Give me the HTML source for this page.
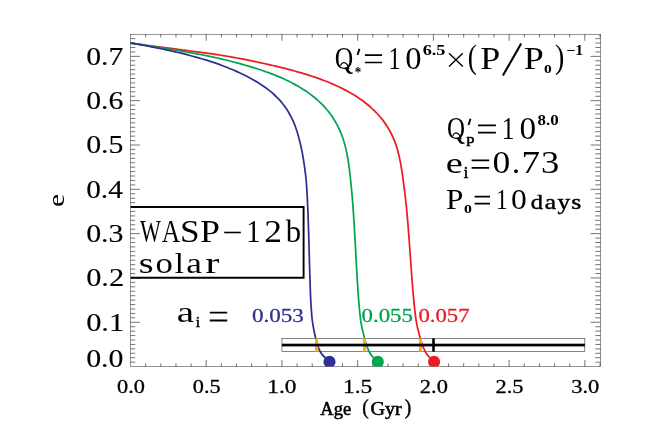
<!DOCTYPE html>
<html><head><meta charset="utf-8"><title>WASP-12b tidal evolution</title>
<style>
html,body{margin:0;padding:0;background:#fff;}
body{width:654px;height:436px;overflow:hidden;position:relative;}
svg text{font-family:"Liberation Serif",serif;font-kerning:none;}
</style></head><body>
<svg width="654" height="436" viewBox="0 0 654 436" style="position:absolute;left:0;top:0;will-change:transform">
<rect width="654" height="436" fill="#fff"/>
<path d="M145.65 366.60 v-3.30 M145.65 34.20 v3.30 M160.79 366.60 v-3.30 M160.79 34.20 v3.30 M175.94 366.60 v-3.30 M175.94 34.20 v3.30 M191.08 366.60 v-3.30 M191.08 34.20 v3.30 M206.23 366.60 v-6.60 M206.23 34.20 v6.60 M221.37 366.60 v-3.30 M221.37 34.20 v3.30 M236.52 366.60 v-3.30 M236.52 34.20 v3.30 M251.66 366.60 v-3.30 M251.66 34.20 v3.30 M266.81 366.60 v-3.30 M266.81 34.20 v3.30 M281.95 366.60 v-6.60 M281.95 34.20 v6.60 M297.10 366.60 v-3.30 M297.10 34.20 v3.30 M312.24 366.60 v-3.30 M312.24 34.20 v3.30 M327.39 366.60 v-3.30 M327.39 34.20 v3.30 M342.53 366.60 v-3.30 M342.53 34.20 v3.30 M357.68 366.60 v-6.60 M357.68 34.20 v6.60 M372.82 366.60 v-3.30 M372.82 34.20 v3.30 M387.97 366.60 v-3.30 M387.97 34.20 v3.30 M403.11 366.60 v-3.30 M403.11 34.20 v3.30 M418.26 366.60 v-3.30 M418.26 34.20 v3.30 M433.40 366.60 v-6.60 M433.40 34.20 v6.60 M448.55 366.60 v-3.30 M448.55 34.20 v3.30 M463.69 366.60 v-3.30 M463.69 34.20 v3.30 M478.84 366.60 v-3.30 M478.84 34.20 v3.30 M493.98 366.60 v-3.30 M493.98 34.20 v3.30 M509.13 366.60 v-6.60 M509.13 34.20 v6.60 M524.27 366.60 v-3.30 M524.27 34.20 v3.30 M539.42 366.60 v-3.30 M539.42 34.20 v3.30 M554.56 366.60 v-3.30 M554.56 34.20 v3.30 M569.71 366.60 v-3.30 M569.71 34.20 v3.30 M584.85 366.60 v-6.60 M584.85 34.20 v6.60 M600.00 366.60 v-3.30 M600.00 34.20 v3.30 M130.50 362.17 h4.70 M600.50 362.17 h-5.20 M130.50 357.74 h4.70 M600.50 357.74 h-5.20 M130.50 353.30 h4.70 M600.50 353.30 h-5.20 M130.50 348.87 h4.70 M600.50 348.87 h-5.20 M130.50 344.44 h4.70 M600.50 344.44 h-5.20 M130.50 340.01 h4.70 M600.50 340.01 h-5.20 M130.50 335.58 h4.70 M600.50 335.58 h-5.20 M130.50 331.14 h4.70 M600.50 331.14 h-5.20 M130.50 326.71 h4.70 M600.50 326.71 h-5.20 M130.50 322.28 h9.40 M600.50 322.28 h-9.90 M130.50 317.85 h4.70 M600.50 317.85 h-5.20 M130.50 313.42 h4.70 M600.50 313.42 h-5.20 M130.50 308.98 h4.70 M600.50 308.98 h-5.20 M130.50 304.55 h4.70 M600.50 304.55 h-5.20 M130.50 300.12 h4.70 M600.50 300.12 h-5.20 M130.50 295.69 h4.70 M600.50 295.69 h-5.20 M130.50 291.26 h4.70 M600.50 291.26 h-5.20 M130.50 286.82 h4.70 M600.50 286.82 h-5.20 M130.50 282.39 h4.70 M600.50 282.39 h-5.20 M130.50 277.96 h9.40 M600.50 277.96 h-9.90 M130.50 273.53 h4.70 M600.50 273.53 h-5.20 M130.50 269.10 h4.70 M600.50 269.10 h-5.20 M130.50 264.66 h4.70 M600.50 264.66 h-5.20 M130.50 260.23 h4.70 M600.50 260.23 h-5.20 M130.50 255.80 h4.70 M600.50 255.80 h-5.20 M130.50 251.37 h4.70 M600.50 251.37 h-5.20 M130.50 246.94 h4.70 M600.50 246.94 h-5.20 M130.50 242.50 h4.70 M600.50 242.50 h-5.20 M130.50 238.07 h4.70 M600.50 238.07 h-5.20 M130.50 233.64 h9.40 M600.50 233.64 h-9.90 M130.50 229.21 h4.70 M600.50 229.21 h-5.20 M130.50 224.78 h4.70 M600.50 224.78 h-5.20 M130.50 220.34 h4.70 M600.50 220.34 h-5.20 M130.50 215.91 h4.70 M600.50 215.91 h-5.20 M130.50 211.48 h4.70 M600.50 211.48 h-5.20 M130.50 207.05 h4.70 M600.50 207.05 h-5.20 M130.50 202.62 h4.70 M600.50 202.62 h-5.20 M130.50 198.18 h4.70 M600.50 198.18 h-5.20 M130.50 193.75 h4.70 M600.50 193.75 h-5.20 M130.50 189.32 h9.40 M600.50 189.32 h-9.90 M130.50 184.89 h4.70 M600.50 184.89 h-5.20 M130.50 180.46 h4.70 M600.50 180.46 h-5.20 M130.50 176.02 h4.70 M600.50 176.02 h-5.20 M130.50 171.59 h4.70 M600.50 171.59 h-5.20 M130.50 167.16 h4.70 M600.50 167.16 h-5.20 M130.50 162.73 h4.70 M600.50 162.73 h-5.20 M130.50 158.30 h4.70 M600.50 158.30 h-5.20 M130.50 153.86 h4.70 M600.50 153.86 h-5.20 M130.50 149.43 h4.70 M600.50 149.43 h-5.20 M130.50 145.00 h9.40 M600.50 145.00 h-9.90 M130.50 140.57 h4.70 M600.50 140.57 h-5.20 M130.50 136.14 h4.70 M600.50 136.14 h-5.20 M130.50 131.70 h4.70 M600.50 131.70 h-5.20 M130.50 127.27 h4.70 M600.50 127.27 h-5.20 M130.50 122.84 h4.70 M600.50 122.84 h-5.20 M130.50 118.41 h4.70 M600.50 118.41 h-5.20 M130.50 113.98 h4.70 M600.50 113.98 h-5.20 M130.50 109.54 h4.70 M600.50 109.54 h-5.20 M130.50 105.11 h4.70 M600.50 105.11 h-5.20 M130.50 100.68 h9.40 M600.50 100.68 h-9.90 M130.50 96.25 h4.70 M600.50 96.25 h-5.20 M130.50 91.82 h4.70 M600.50 91.82 h-5.20 M130.50 87.38 h4.70 M600.50 87.38 h-5.20 M130.50 82.95 h4.70 M600.50 82.95 h-5.20 M130.50 78.52 h4.70 M600.50 78.52 h-5.20 M130.50 74.09 h4.70 M600.50 74.09 h-5.20 M130.50 69.66 h4.70 M600.50 69.66 h-5.20 M130.50 65.22 h4.70 M600.50 65.22 h-5.20 M130.50 60.79 h4.70 M600.50 60.79 h-5.20 M130.50 56.36 h9.40 M600.50 56.36 h-9.90 M130.50 51.93 h4.70 M600.50 51.93 h-5.20 M130.50 47.50 h4.70 M600.50 47.50 h-5.20 M130.50 43.06 h4.70 M600.50 43.06 h-5.20 M130.50 38.63 h4.70 M600.50 38.63 h-5.20" stroke="#000" stroke-width="0.55" fill="none"/>
<rect x="130.50" y="34.20" width="470.00" height="332.40" fill="none" stroke="#000" stroke-width="0.42"/>
<clipPath id="pc"><rect x="127.50" y="34.20" width="472.50" height="332.40"/></clipPath>
<rect x="281.95" y="338.4" width="302.90" height="13.2" fill="#fff" stroke="#222" stroke-width="0.55"/>
<g clip-path="url(#pc)">
<path d="M130.50 43.06 C131.17 43.15 133.19 43.42 134.53 43.60 C135.87 43.78 137.21 43.96 138.55 44.14 C139.89 44.32 141.23 44.50 142.57 44.69 C143.91 44.88 145.26 45.06 146.60 45.25 C147.94 45.44 149.28 45.62 150.62 45.80 C151.96 45.97 153.31 46.13 154.65 46.30 C155.99 46.47 157.34 46.64 158.68 46.81 C160.02 46.98 161.36 47.16 162.70 47.33 C164.04 47.50 165.39 47.68 166.73 47.86 C168.07 48.04 169.42 48.21 170.76 48.39 C172.10 48.57 173.44 48.75 174.78 48.94 C176.12 49.12 177.46 49.32 178.80 49.50 C180.14 49.68 181.49 49.84 182.83 50.01 C184.17 50.18 185.52 50.34 186.86 50.50 C188.20 50.66 189.55 50.83 190.89 51.00 C192.23 51.17 193.58 51.35 194.92 51.52 C196.26 51.69 197.61 51.86 198.95 52.04 C200.29 52.22 201.63 52.40 202.97 52.58 C204.31 52.76 205.65 52.95 206.99 53.14 C208.33 53.33 209.67 53.51 211.01 53.71 C212.35 53.91 213.69 54.11 215.03 54.32 C216.37 54.53 217.70 54.74 219.04 54.95 C220.38 55.16 221.71 55.37 223.05 55.59 C224.39 55.81 225.72 56.03 227.06 56.26 C228.40 56.48 229.73 56.71 231.06 56.94 C232.39 57.17 233.73 57.41 235.06 57.64 C236.39 57.88 237.73 58.11 239.06 58.35 C240.39 58.59 241.72 58.85 243.05 59.11 C244.38 59.37 245.70 59.62 247.03 59.89 C248.36 60.16 249.68 60.43 251.01 60.70 C252.34 60.97 253.67 61.24 254.99 61.52 C256.31 61.80 257.64 62.08 258.96 62.37 C260.28 62.66 261.61 62.95 262.93 63.24 C264.25 63.53 265.57 63.82 266.89 64.12 C268.21 64.42 269.53 64.72 270.85 65.03 C272.17 65.34 273.48 65.65 274.80 65.96 C276.12 66.27 277.44 66.59 278.75 66.91 C280.06 67.23 281.38 67.56 282.69 67.89 C284.00 68.22 285.32 68.55 286.63 68.89 C287.94 69.23 289.24 69.57 290.55 69.92 C291.86 70.27 293.17 70.62 294.47 70.98 C295.78 71.34 297.08 71.70 298.38 72.07 C299.68 72.44 300.98 72.82 302.28 73.20 C303.58 73.58 304.88 73.97 306.17 74.37 C307.47 74.77 308.76 75.18 310.05 75.59 C311.34 76.00 312.63 76.42 313.91 76.85 C315.19 77.28 316.47 77.73 317.74 78.18 C319.01 78.63 320.29 79.09 321.56 79.57 C322.83 80.05 324.09 80.54 325.35 81.04 C326.61 81.54 327.86 82.04 329.11 82.56 C330.36 83.08 331.60 83.62 332.84 84.16 C334.08 84.70 335.32 85.25 336.55 85.82 C337.78 86.38 339.00 86.96 340.22 87.55 C341.44 88.14 342.65 88.75 343.85 89.37 C345.05 89.99 346.25 90.61 347.44 91.26 C348.63 91.91 349.81 92.57 350.98 93.25 C352.15 93.93 353.32 94.62 354.47 95.33 C355.62 96.04 356.76 96.77 357.89 97.52 C359.02 98.27 360.14 99.03 361.25 99.81 C362.36 100.59 363.44 101.39 364.52 102.21 C365.60 103.03 366.66 103.87 367.71 104.73 C368.76 105.59 369.79 106.46 370.80 107.36 C371.81 108.26 372.80 109.18 373.77 110.12 C374.74 111.06 375.70 112.03 376.63 113.01 C377.56 113.99 378.47 114.99 379.36 116.01 C380.25 117.03 381.11 118.08 381.95 119.14 C382.79 120.20 383.60 121.28 384.39 122.38 C385.18 123.48 385.95 124.60 386.69 125.74 C387.43 126.88 388.14 128.02 388.82 129.19 C389.50 130.36 390.16 131.54 390.79 132.74 C391.42 133.94 392.01 135.15 392.58 136.38 C393.15 137.61 393.68 138.86 394.19 140.11 C394.70 141.37 395.17 142.63 395.62 143.91 C396.07 145.19 396.49 146.48 396.89 147.77 C397.29 149.06 397.66 150.36 398.01 151.67 C398.36 152.98 398.69 154.29 399.00 155.61 C399.31 156.93 399.61 158.26 399.88 159.58 C400.15 160.91 400.40 162.23 400.65 163.56 C400.89 164.89 401.13 166.22 401.35 167.56 C401.57 168.90 401.78 170.23 401.98 171.57 C402.18 172.91 402.37 174.25 402.56 175.59 C402.75 176.93 402.93 178.28 403.11 179.62 C403.29 180.96 403.45 182.30 403.63 183.64 C403.81 184.98 403.99 186.33 404.16 187.67 C404.34 189.01 404.51 190.36 404.68 191.70 C404.85 193.04 405.02 194.39 405.18 195.73 C405.34 197.07 405.49 198.41 405.64 199.76 C405.79 201.10 405.94 202.45 406.08 203.80 C406.22 205.15 406.36 206.49 406.49 207.84 C406.62 209.19 406.75 210.53 406.88 211.88 C407.00 213.23 407.12 214.58 407.24 215.93 C407.36 217.28 407.49 218.62 407.60 219.97 C407.72 221.32 407.82 222.67 407.93 224.02 C408.04 225.37 408.15 226.72 408.26 228.07 C408.37 229.42 408.47 230.76 408.57 232.11 C408.67 233.46 408.78 234.81 408.88 236.16 C408.98 237.51 409.08 238.86 409.18 240.21 C409.28 241.56 409.37 242.91 409.47 244.26 C409.57 245.61 409.66 246.96 409.76 248.31 C409.86 249.66 409.95 251.01 410.05 252.36 C410.15 253.71 410.25 255.06 410.34 256.41 C410.43 257.76 410.52 259.12 410.62 260.47 C410.72 261.82 410.81 263.17 410.91 264.52 C411.01 265.87 411.10 267.22 411.20 268.57 C411.30 269.92 411.40 271.27 411.50 272.62 C411.60 273.97 411.70 275.32 411.80 276.67 C411.90 278.02 412.00 279.37 412.11 280.72 C412.22 282.07 412.32 283.41 412.43 284.76 C412.54 286.11 412.65 287.46 412.76 288.81 C412.87 290.16 412.98 291.51 413.10 292.86 C413.22 294.21 413.34 295.55 413.46 296.90 C413.58 298.25 413.71 299.59 413.84 300.94 C413.97 302.29 414.10 303.64 414.24 304.99 C414.38 306.34 414.52 307.67 414.67 309.02 C414.82 310.37 414.98 311.72 415.14 313.06 C415.30 314.40 415.46 315.75 415.64 317.09 C415.82 318.43 416.01 319.78 416.23 321.11 C416.45 322.44 416.71 323.76 416.98 325.09 C417.25 326.41 417.56 327.74 417.87 329.06 C418.18 330.38 418.51 331.69 418.85 333.00 C419.19 334.31 419.55 335.62 419.92 336.92 C420.29 338.22 420.66 339.52 421.05 340.82 C421.44 342.12 421.83 343.41 422.28 344.69 C422.73 345.97 423.19 347.23 423.74 348.47 C424.29 349.71 424.87 350.94 425.55 352.11 C426.23 353.28 426.97 354.42 427.82 355.47 C428.67 356.52 429.61 357.52 430.63 358.39 C431.65 359.26 433.40 360.32 433.96 360.71" stroke="#ed1c24" stroke-width="1.75" fill="none" stroke-linejoin="round"/>
<path d="M130.50 43.06 C131.17 43.16 133.17 43.45 134.50 43.65 C135.83 43.85 137.16 44.05 138.49 44.25 C139.82 44.45 141.15 44.66 142.48 44.87 C143.81 45.08 145.14 45.28 146.47 45.49 C147.80 45.70 149.13 45.92 150.46 46.13 C151.79 46.34 153.13 46.53 154.46 46.73 C155.79 46.93 157.12 47.14 158.45 47.35 C159.78 47.56 161.11 47.77 162.44 47.98 C163.77 48.19 165.10 48.40 166.43 48.62 C167.76 48.84 169.08 49.06 170.41 49.29 C171.74 49.52 173.06 49.74 174.39 49.97 C175.72 50.20 177.04 50.43 178.37 50.66 C179.70 50.89 181.03 51.12 182.36 51.34 C183.69 51.56 185.01 51.77 186.34 52.00 C187.67 52.23 188.99 52.46 190.32 52.69 C191.65 52.92 192.98 53.15 194.30 53.39 C195.62 53.63 196.95 53.87 198.27 54.12 C199.59 54.37 200.92 54.62 202.24 54.87 C203.56 55.12 204.89 55.38 206.21 55.64 C207.53 55.90 208.85 56.17 210.17 56.44 C211.49 56.71 212.81 56.99 214.12 57.28 C215.44 57.57 216.75 57.86 218.06 58.16 C219.37 58.46 220.68 58.77 221.99 59.08 C223.30 59.39 224.61 59.70 225.92 60.02 C227.23 60.34 228.53 60.66 229.84 60.99 C231.15 61.32 232.45 61.65 233.75 61.99 C235.05 62.33 236.36 62.68 237.66 63.03 C238.96 63.38 240.25 63.73 241.55 64.10 C242.85 64.46 244.15 64.84 245.44 65.22 C246.73 65.60 248.02 65.97 249.31 66.36 C250.60 66.75 251.88 67.14 253.17 67.54 C254.45 67.94 255.74 68.34 257.02 68.76 C258.30 69.18 259.58 69.60 260.86 70.03 C262.14 70.46 263.41 70.89 264.68 71.33 C265.95 71.77 267.23 72.23 268.49 72.69 C269.75 73.15 271.01 73.62 272.27 74.10 C273.53 74.58 274.78 75.08 276.03 75.58 C277.28 76.08 278.53 76.59 279.77 77.12 C281.01 77.65 282.23 78.18 283.46 78.74 C284.69 79.30 285.91 79.88 287.12 80.46 C288.33 81.04 289.54 81.64 290.74 82.25 C291.94 82.86 293.14 83.49 294.32 84.13 C295.50 84.77 296.67 85.43 297.84 86.10 C299.00 86.77 300.16 87.47 301.31 88.17 C302.46 88.88 303.60 89.59 304.72 90.33 C305.85 91.07 306.96 91.83 308.06 92.61 C309.16 93.39 310.26 94.18 311.33 94.99 C312.40 95.80 313.46 96.64 314.50 97.49 C315.54 98.34 316.56 99.22 317.57 100.11 C318.58 101.00 319.57 101.91 320.54 102.85 C321.51 103.78 322.45 104.74 323.38 105.72 C324.31 106.70 325.21 107.69 326.09 108.71 C326.97 109.73 327.83 110.77 328.66 111.83 C329.49 112.89 330.30 113.96 331.08 115.06 C331.86 116.16 332.61 117.28 333.34 118.41 C334.07 119.54 334.77 120.69 335.45 121.86 C336.12 123.03 336.77 124.21 337.39 125.40 C338.01 126.59 338.60 127.81 339.17 129.03 C339.74 130.25 340.28 131.48 340.79 132.72 C341.30 133.96 341.78 135.22 342.24 136.49 C342.70 137.76 343.13 139.04 343.54 140.32 C343.95 141.60 344.32 142.89 344.68 144.19 C345.04 145.49 345.37 146.79 345.69 148.10 C346.01 149.41 346.30 150.72 346.58 152.04 C346.86 153.36 347.12 154.69 347.37 156.01 C347.62 157.33 347.84 158.66 348.06 159.99 C348.28 161.32 348.48 162.65 348.67 163.98 C348.86 165.31 349.05 166.64 349.22 167.98 C349.40 169.31 349.56 170.65 349.72 171.99 C349.88 173.33 350.02 174.66 350.17 176.00 C350.32 177.34 350.46 178.68 350.60 180.02 C350.74 181.36 350.87 182.70 351.00 184.04 C351.13 185.38 351.26 186.72 351.39 188.06 C351.52 189.40 351.65 190.74 351.78 192.08 C351.91 193.42 352.03 194.76 352.15 196.10 C352.27 197.44 352.38 198.79 352.49 200.13 C352.60 201.47 352.70 202.82 352.80 204.16 C352.90 205.50 353.00 206.84 353.10 208.18 C353.20 209.52 353.30 210.87 353.39 212.21 C353.48 213.55 353.57 214.90 353.66 216.24 C353.75 217.59 353.83 218.94 353.91 220.28 C353.99 221.62 354.08 222.97 354.16 224.31 C354.24 225.65 354.32 227.00 354.40 228.34 C354.48 229.68 354.55 231.03 354.63 232.37 C354.71 233.72 354.79 235.06 354.86 236.41 C354.94 237.75 355.01 239.10 355.08 240.44 C355.15 241.78 355.23 243.12 355.30 244.47 C355.37 245.81 355.45 247.16 355.52 248.51 C355.59 249.85 355.67 251.20 355.74 252.54 C355.81 253.88 355.88 255.22 355.95 256.57 C356.02 257.92 356.10 259.26 356.17 260.61 C356.24 261.96 356.31 263.30 356.39 264.64 C356.46 265.98 356.54 267.33 356.62 268.67 C356.70 270.01 356.77 271.37 356.85 272.71 C356.93 274.05 357.01 275.40 357.09 276.74 C357.17 278.08 357.25 279.43 357.33 280.77 C357.41 282.11 357.49 283.46 357.58 284.80 C357.67 286.14 357.76 287.49 357.85 288.83 C357.94 290.17 358.03 291.52 358.13 292.86 C358.23 294.20 358.32 295.55 358.42 296.89 C358.52 298.23 358.62 299.58 358.73 300.92 C358.84 302.26 358.95 303.60 359.07 304.94 C359.19 306.28 359.31 307.63 359.43 308.97 C359.56 310.31 359.69 311.65 359.82 312.99 C359.95 314.33 360.08 315.67 360.24 317.01 C360.40 318.35 360.56 319.68 360.76 321.01 C360.96 322.34 361.19 323.67 361.44 324.99 C361.69 326.31 361.98 327.63 362.27 328.95 C362.56 330.26 362.87 331.57 363.19 332.88 C363.51 334.19 363.84 335.50 364.18 336.80 C364.52 338.10 364.87 339.40 365.23 340.70 C365.59 342.00 365.94 343.30 366.35 344.58 C366.76 345.86 367.19 347.14 367.70 348.38 C368.21 349.62 368.76 350.86 369.41 352.04 C370.06 353.22 370.77 354.38 371.59 355.44 C372.41 356.50 373.33 357.51 374.34 358.39 C375.35 359.27 377.09 360.32 377.64 360.71" stroke="#00a651" stroke-width="1.75" fill="none" stroke-linejoin="round"/>
<path d="M130.50 43.06 C131.16 43.17 133.16 43.51 134.49 43.74 C135.82 43.97 137.15 44.20 138.48 44.43 C139.81 44.66 141.14 44.89 142.47 45.13 C143.80 45.37 145.13 45.61 146.46 45.85 C147.79 46.09 149.12 46.34 150.44 46.59 C151.76 46.85 153.09 47.11 154.41 47.38 C155.73 47.65 157.06 47.92 158.38 48.19 C159.70 48.46 161.02 48.73 162.34 49.01 C163.66 49.29 164.98 49.58 166.30 49.86 C167.62 50.14 168.94 50.43 170.26 50.72 C171.58 51.01 172.89 51.31 174.21 51.61 C175.53 51.91 176.85 52.20 178.16 52.51 C179.47 52.82 180.78 53.14 182.09 53.47 C183.40 53.80 184.70 54.13 186.01 54.47 C187.32 54.81 188.62 55.15 189.93 55.50 C191.24 55.85 192.54 56.19 193.84 56.55 C195.14 56.91 196.44 57.27 197.74 57.64 C199.04 58.01 200.33 58.38 201.63 58.76 C202.93 59.14 204.23 59.52 205.52 59.91 C206.81 60.30 208.10 60.68 209.39 61.09 C210.68 61.50 211.96 61.92 213.24 62.35 C214.52 62.78 215.79 63.23 217.06 63.69 C218.33 64.14 219.60 64.61 220.86 65.08 C222.12 65.55 223.39 66.02 224.65 66.51 C225.91 67.00 227.16 67.50 228.41 68.00 C229.66 68.50 230.91 69.02 232.16 69.54 C233.41 70.06 234.64 70.59 235.88 71.14 C237.12 71.69 238.34 72.25 239.57 72.81 C240.79 73.38 242.01 73.94 243.23 74.53 C244.44 75.12 245.66 75.72 246.86 76.33 C248.06 76.94 249.26 77.57 250.45 78.21 C251.64 78.85 252.82 79.51 253.99 80.18 C255.16 80.85 256.32 81.53 257.47 82.24 C258.62 82.95 259.75 83.68 260.88 84.42 C262.01 85.16 263.13 85.91 264.24 86.69 C265.35 87.47 266.44 88.25 267.51 89.07 C268.58 89.88 269.65 90.72 270.69 91.58 C271.73 92.44 272.75 93.32 273.75 94.23 C274.75 95.14 275.73 96.07 276.68 97.02 C277.63 97.97 278.58 98.95 279.48 99.95 C280.38 100.95 281.26 101.98 282.11 103.03 C282.96 104.08 283.79 105.14 284.59 106.23 C285.38 107.32 286.14 108.44 286.88 109.57 C287.62 110.70 288.32 111.85 289.00 113.02 C289.68 114.19 290.32 115.37 290.94 116.57 C291.56 117.77 292.15 118.98 292.71 120.21 C293.27 121.44 293.80 122.68 294.31 123.93 C294.82 125.18 295.30 126.45 295.75 127.72 C296.20 128.99 296.63 130.27 297.04 131.55 C297.45 132.84 297.84 134.13 298.21 135.43 C298.58 136.73 298.91 138.04 299.25 139.35 C299.59 140.66 299.93 141.96 300.24 143.27 C300.56 144.58 300.85 145.90 301.14 147.22 C301.43 148.54 301.70 149.86 301.96 151.18 C302.22 152.50 302.47 153.83 302.71 155.16 C302.95 156.49 303.17 157.82 303.39 159.15 C303.61 160.48 303.82 161.82 304.02 163.16 C304.22 164.50 304.41 165.82 304.59 167.16 C304.77 168.50 304.95 169.84 305.12 171.18 C305.29 172.52 305.46 173.86 305.62 175.20 C305.78 176.54 305.94 177.88 306.07 179.22 C306.20 180.56 306.30 181.91 306.40 183.26 C306.50 184.61 306.58 185.95 306.67 187.30 C306.76 188.65 306.84 189.99 306.92 191.34 C307.00 192.69 307.08 194.03 307.15 195.38 C307.22 196.73 307.29 198.08 307.36 199.43 C307.43 200.78 307.49 202.12 307.55 203.47 C307.61 204.82 307.67 206.17 307.73 207.52 C307.79 208.87 307.84 210.21 307.90 211.56 C307.95 212.91 308.01 214.26 308.06 215.61 C308.11 216.96 308.16 218.30 308.21 219.65 C308.26 221.00 308.31 222.35 308.35 223.70 C308.40 225.05 308.44 226.40 308.48 227.75 C308.52 229.10 308.57 230.45 308.61 231.80 C308.65 233.15 308.69 234.49 308.73 235.84 C308.77 237.19 308.81 238.54 308.85 239.89 C308.89 241.24 308.92 242.59 308.96 243.94 C309.00 245.29 309.03 246.64 309.07 247.99 C309.11 249.34 309.15 250.68 309.19 252.03 C309.23 253.38 309.26 254.73 309.30 256.08 C309.34 257.43 309.37 258.78 309.41 260.13 C309.45 261.48 309.48 262.83 309.52 264.18 C309.56 265.53 309.59 266.88 309.63 268.23 C309.67 269.58 309.71 270.92 309.75 272.27 C309.79 273.62 309.83 274.97 309.87 276.32 C309.91 277.67 309.95 279.02 309.99 280.37 C310.03 281.72 310.07 283.07 310.12 284.42 C310.17 285.77 310.21 287.11 310.26 288.46 C310.31 289.81 310.36 291.16 310.41 292.51 C310.46 293.86 310.51 295.21 310.57 296.56 C310.63 297.91 310.68 299.25 310.75 300.60 C310.82 301.95 310.92 303.29 311.00 304.64 C311.08 305.99 311.17 307.33 311.26 308.68 C311.35 310.03 311.46 311.37 311.56 312.72 C311.66 314.07 311.75 315.42 311.88 316.76 C312.01 318.10 312.17 319.44 312.35 320.78 C312.53 322.12 312.74 323.45 312.96 324.78 C313.18 326.11 313.41 327.44 313.66 328.77 C313.91 330.10 314.17 331.42 314.44 332.74 C314.71 334.06 315.00 335.38 315.31 336.70 C315.62 338.01 315.94 339.33 316.29 340.63 C316.64 341.93 317.02 343.23 317.43 344.51 C317.84 345.79 318.24 347.09 318.75 348.34 C319.26 349.59 319.81 350.84 320.48 352.00 C321.16 353.16 321.92 354.30 322.80 355.31 C323.68 356.32 324.70 357.25 325.78 358.04 C326.86 358.83 328.69 359.73 329.27 360.07" stroke="#2e3192" stroke-width="1.75" fill="none" stroke-linejoin="round"/>
<circle cx="329.5" cy="361.9" r="6.05" fill="#2e3192"/>
<circle cx="377.8" cy="361.9" r="6.05" fill="#00a651"/>
<circle cx="434.1" cy="361.9" r="6.05" fill="#ed1c24"/>
</g>
<rect x="315.05" y="338.5" width="3.2" height="13.0" fill="#fbb01a"/>
<rect x="362.90" y="338.5" width="3.2" height="13.0" fill="#fbb01a"/>
<rect x="418.80" y="338.5" width="3.2" height="13.0" fill="#fbb01a"/>
<rect x="281.95" y="343.7" width="302.90" height="2.7" fill="#000"/>
<rect x="432.20" y="338.4" width="2.6" height="13.2" fill="#000"/>
<path d="M130.8 207 H303.6 V277.7 H130.8" fill="none" stroke="#000" stroke-width="1.9"/>
<text transform="translate(86.16,366.56) scale(0.2990,0.2429)" font-size="100" fill="#000" stroke="#000" stroke-width="0.55">0.0</text>
<text transform="translate(86.14,330.64) scale(0.3047,0.2429)" font-size="100" fill="#000" stroke="#000" stroke-width="0.55">0.1</text>
<text transform="translate(86.14,286.32) scale(0.3034,0.2429)" font-size="100" fill="#000" stroke="#000" stroke-width="0.55">0.2</text>
<text transform="translate(86.16,242.00) scale(0.2993,0.2429)" font-size="100" fill="#000" stroke="#000" stroke-width="0.55">0.3</text>
<text transform="translate(86.18,197.68) scale(0.2934,0.2429)" font-size="100" fill="#000" stroke="#000" stroke-width="0.56">0.4</text>
<text transform="translate(86.16,153.36) scale(0.2993,0.2429)" font-size="100" fill="#000" stroke="#000" stroke-width="0.55">0.5</text>
<text transform="translate(86.17,109.04) scale(0.2969,0.2429)" font-size="100" fill="#000" stroke="#000" stroke-width="0.56">0.6</text>
<text transform="translate(86.17,64.72) scale(0.2967,0.2429)" font-size="100" fill="#000" stroke="#000" stroke-width="0.56">0.7</text>
<text transform="translate(117.05,392.64) scale(0.2232,0.1826)" font-size="100" fill="#000" stroke="#000" stroke-width="1.48">0.0</text>
<text transform="translate(192.78,392.64) scale(0.2234,0.1826)" font-size="100" fill="#000" stroke="#000" stroke-width="1.48">0.5</text>
<text transform="translate(267.30,392.64) scale(0.2331,0.1826)" font-size="100" fill="#000" stroke="#000" stroke-width="1.44">1.0</text>
<text transform="translate(343.03,392.64) scale(0.2333,0.1839)" font-size="100" fill="#000" stroke="#000" stroke-width="1.44">1.5</text>
<text transform="translate(419.82,392.64) scale(0.2243,0.1826)" font-size="100" fill="#000" stroke="#000" stroke-width="1.47">2.0</text>
<text transform="translate(495.54,392.64) scale(0.2245,0.1834)" font-size="100" fill="#000" stroke="#000" stroke-width="1.47">2.5</text>
<text transform="translate(571.18,392.64) scale(0.2251,0.1826)" font-size="100" fill="#000" stroke="#000" stroke-width="1.47">3.0</text>
<text transform="translate(320.32,414.50) scale(0.1850,0.1790)" font-size="100" fill="#000" stroke="#000" stroke-width="3.02">Age</text>
<text transform="translate(362.34,414.29) scale(0.1947,0.2117)" font-size="100" fill="#000" stroke="#000" stroke-width="2.21">(</text>
<text transform="translate(370.48,414.50) scale(0.2006,0.1790)" font-size="100" fill="#000" stroke="#000" stroke-width="2.90">Gyr</text>
<text transform="translate(404.87,414.29) scale(0.1947,0.2117)" font-size="100" fill="#000" stroke="#000" stroke-width="2.21">)</text>
<g transform="translate(64.7,205.8) rotate(-90)">
<text transform="translate(-1.14,-0.22) scale(0.2918,0.2225)" font-size="100">e</text>
</g>
<text transform="translate(139.98,241.70) scale(0.2211,0.3082)" font-size="100" fill="#000">W</text>
<text transform="translate(161.75,241.70) scale(0.2553,0.3082)" font-size="100" fill="#000">A</text>
<text transform="translate(179.94,241.70) scale(0.3534,0.3082)" font-size="100" fill="#000">S</text>
<text transform="translate(200.07,241.70) scale(0.3571,0.3082)" font-size="100" fill="#000">P</text>
<text transform="translate(246.20,241.70) scale(0.2840,0.3082)" font-size="100" fill="#000">1</text>
<text transform="translate(264.24,241.70) scale(0.3542,0.3082)" font-size="100" fill="#000">2</text>
<text transform="translate(285.80,241.70) scale(0.3074,0.3082)" font-size="100" fill="#000">b</text>
<path d="M224.2 232.5 H240.8" stroke="#000" stroke-width="1.6"/>
<text transform="translate(138.84,272.50) scale(0.3814,0.2980)" font-size="100" fill="#000">s</text>
<text transform="translate(155.58,272.50) scale(0.3468,0.2980)" font-size="100" fill="#000">o</text>
<text transform="translate(174.84,272.50) scale(0.3280,0.2980)" font-size="100" fill="#000">l</text>
<text transform="translate(186.36,272.50) scale(0.3519,0.2980)" font-size="100" fill="#000">a</text>
<text transform="translate(205.25,272.50) scale(0.4241,0.2980)" font-size="100" fill="#000">r</text>
<text transform="translate(176.83,321.60) scale(0.3899,0.3027)" font-size="100" fill="#000">a</text>
<text transform="translate(195.77,326.60) scale(0.1556,0.1420)" font-size="100" fill="#000" stroke="#000" stroke-width="3.36">i</text>
<path d="M209.80 312.70 H227.20 M209.80 320.50 H227.20" stroke="#000" stroke-width="1.80" fill="none"/>
<text transform="translate(251.92,322.04) scale(0.2310,0.1840)" font-size="100" fill="#2e3192" stroke="#2e3192" stroke-width="1.45">0.053</text>
<text transform="translate(361.53,322.04) scale(0.2283,0.1840)" font-size="100" fill="#00a651" stroke="#00a651" stroke-width="1.46">0.055</text>
<text transform="translate(418.43,322.04) scale(0.2272,0.1840)" font-size="100" fill="#ed1c24" stroke="#ed1c24" stroke-width="1.46">0.057</text>
<text transform="translate(334.65,68.60) scale(0.2560,0.3172)" font-size="100" fill="#000">Q</text>
<path d="M340.8 65.2 C341.6 62.2 345.6 61.6 347.2 64.8 C348 66.4 348.4 67.6 348.8 68.8" stroke="#000" stroke-width="1.3" fill="none" stroke-linecap="round"/>
<path d="M359.50 48.70 L357.50 54.90" stroke="#000" stroke-width="1.90" fill="none"/>
<text transform="translate(354.76,76.60) scale(0.1295,0.1486)" font-size="100" fill="#000" font-weight="bold">*</text>
<path d="M364.90 55.10 H382.10 M364.90 62.50 H382.10" stroke="#000" stroke-width="1.70" fill="none"/>
<text transform="translate(388.38,68.60) scale(0.2414,0.3066)" font-size="100" fill="#000">1</text>
<text transform="translate(405.26,68.60) scale(0.3256,0.3066)" font-size="100" fill="#000">0</text>
<text transform="translate(422.68,55.00) scale(0.1823,0.1434)" font-size="100" fill="#000" font-weight="bold">6.5</text>
<path d="M449 53.2 L462.8 66.6 M462.8 53.2 L449 66.6" stroke="#000" stroke-width="1.4" fill="none"/>
<text transform="translate(467.80,67.83) scale(0.2725,0.3320)" font-size="100" fill="#000">(</text>
<text transform="translate(480.37,68.60) scale(0.3591,0.3066)" font-size="100" fill="#000">P</text>
<path d="M502.9 75.6 L521.2 43.6" stroke="#000" stroke-width="2.1"/>
<text transform="translate(523.77,68.60) scale(0.3591,0.3066)" font-size="100" fill="#000">P</text>
<text transform="translate(544.01,73.17) scale(0.1557,0.1319)" font-size="100" fill="#000" font-weight="bold">0</text>
<text transform="translate(555.10,67.83) scale(0.2803,0.3320)" font-size="100" fill="#000">)</text>
<text transform="translate(566.26,55.20) scale(0.1585,0.1424)" font-size="100" fill="#000" font-weight="bold">−1</text>
<text transform="translate(446.97,138.80) scale(0.2500,0.3172)" font-size="100" fill="#000">Q</text>
<path d="M453.0 135.4 C453.8 132.4 457.8 131.8 459.4 135.0 C460.2 136.6 460.6 137.8 461.0 139.0" stroke="#000" stroke-width="1.3" fill="none" stroke-linecap="round"/>
<path d="M470.50 118.80 L468.50 125.00" stroke="#000" stroke-width="1.90" fill="none"/>
<text transform="translate(466.55,143.00) scale(0.1574,0.1316)" font-size="100" fill="#000" stroke="#000" stroke-width="4.15">p</text>
<path d="M478.00 125.30 H495.90 M478.00 132.70 H495.90" stroke="#000" stroke-width="1.70" fill="none"/>
<text transform="translate(501.75,138.80) scale(0.2556,0.3066)" font-size="100" fill="#000">1</text>
<text transform="translate(519.53,138.80) scale(0.3327,0.3066)" font-size="100" fill="#000">0</text>
<text transform="translate(537.44,125.40) scale(0.1697,0.1428)" font-size="100" fill="#000" font-weight="bold">8.0</text>
<text transform="translate(445.80,173.10) scale(0.3837,0.2950)" font-size="100" fill="#000">e</text>
<text transform="translate(463.76,177.80) scale(0.1598,0.1571)" font-size="100" fill="#000" stroke="#000" stroke-width="3.79">i</text>
<path d="M471.60 160.40 H489.20 M471.60 167.80 H489.20" stroke="#000" stroke-width="1.70" fill="none"/>
<text transform="translate(492.54,173.10) scale(0.3563,0.3066)" font-size="100" fill="#000">0</text>
<text transform="translate(512.08,172.94) scale(0.3216,0.3216)" font-size="100" fill="#000">.</text>
<text transform="translate(521.56,173.10) scale(0.3701,0.3066)" font-size="100" fill="#000">7</text>
<text transform="translate(541.05,173.10) scale(0.3655,0.3066)" font-size="100" fill="#000">3</text>
<text transform="translate(446.00,209.00) scale(0.3119,0.2870)" font-size="100" fill="#000">P</text>
<text transform="translate(464.00,212.88) scale(0.1581,0.1274)" font-size="100" fill="#000" font-weight="bold">0</text>
<path d="M474.60 196.60 H490.00 M474.60 203.60 H490.00" stroke="#000" stroke-width="1.70" fill="none"/>
<text transform="translate(495.95,209.00) scale(0.2329,0.2870)" font-size="100" fill="#000">1</text>
<text transform="translate(511.00,209.00) scale(0.3162,0.2870)" font-size="100" fill="#000">0</text>
<text transform="translate(530.72,208.80) scale(0.2435,0.2120)" font-size="100" fill="#000" stroke="#000" stroke-width="2.20">d</text>
<text transform="translate(544.70,208.80) scale(0.2557,0.2120)" font-size="100" fill="#000" stroke="#000" stroke-width="2.14">a</text>
<text transform="translate(557.49,208.80) scale(0.2521,0.2120)" font-size="100" fill="#000" stroke="#000" stroke-width="2.15">y</text>
<text transform="translate(571.15,208.80) scale(0.2564,0.2120)" font-size="100" fill="#000" stroke="#000" stroke-width="2.13">s</text>
</svg>
</body></html>
